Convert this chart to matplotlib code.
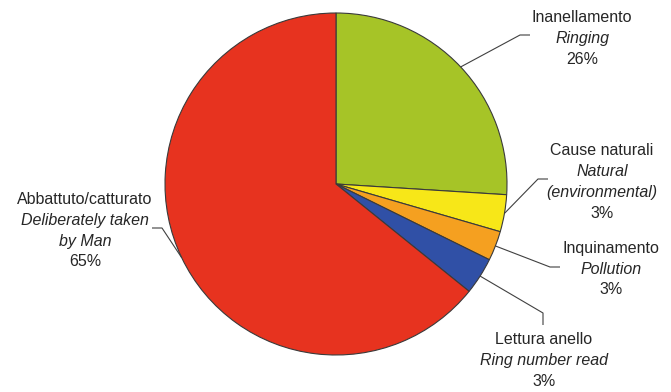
import numpy as np
import matplotlib.pyplot as plt

plt.rcParams['font.family'] = ['Liberation Sans', 'DejaVu Sans']

# slice data (clockwise from 12 o'clock)
values = [26, 3.5, 2.8, 3.5, 64.2]
names_it = ['Inanellamento', 'Cause naturali', 'Inquinamento', 'Lettura anello', 'Abbattuto/catturato']
names_en = [['Ringing'], ['Natural', '(environmental)'], ['Pollution'], ['Ring number read'],
            ['Deliberately taken', 'by Man']]
pct_labels = ['26%', '3%', '3%', '3%', '65%']
colors = ['#a6c427', '#f7e718', '#f5a020', '#3050a6', '#e7331f']

W, H = 671, 392
cx, cy, rad = 336, 184, 171


def Y(y):
    # pixel row -> data y
    return H - y


fig = plt.figure(figsize=(W / 100, H / 100), dpi=100)
ax = fig.add_axes([0, 0, 1, 1])

wedges, _ = ax.pie(values, colors=colors, startangle=90, counterclock=False,
                   center=(cx, Y(cy)), radius=rad,
                   wedgeprops=dict(edgecolor='#3a3a3a', linewidth=0.8))

# label layout: text centre x, first line y, elbow points (pixels)
text_x = [582, 602, 611, 544, 85]
text_y = [17, 150, 248, 339, 199]
elbows = [[(520, 35), (530, 35)],
          [(538, 179), (548, 179)],
          [(550, 267), (560, 267)],
          [(543, 313), (543, 325)],
          [(162, 228), (152, 228)]]
line_h = 21

for i, w in enumerate(wedges):
    mid = np.deg2rad((w.theta1 + w.theta2) / 2)
    sx = cx + rad * np.cos(mid)
    sy = Y(cy) + rad * np.sin(mid)
    xs = [sx] + [p[0] for p in elbows[i]]
    ys = [sy] + [Y(p[1]) for p in elbows[i]]
    ax.plot(xs, ys, color='#404040', lw=0.8, solid_capstyle='butt')

    lines = [(names_it[i], 'normal')] + [(t, 'italic') for t in names_en[i]] + [(pct_labels[i], 'normal')]
    for k, (txt, st) in enumerate(lines):
        ax.text(text_x[i], Y(text_y[i] + k * line_h), txt, fontsize=11.5, style=st,
                ha='center', va='center', color='#262626')

ax.set_xlim(0, W)
ax.set_ylim(0, H)
ax.set_aspect('equal')
ax.axis('off')

fig.savefig('out.png', dpi=100, facecolor='white')
